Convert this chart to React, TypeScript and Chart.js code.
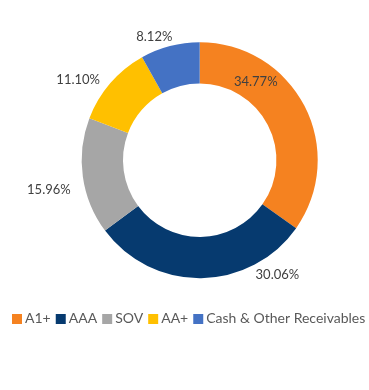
import { useEffect, useRef } from 'react';
import { Chart, registerables } from 'chart.js';

Chart.register(...registerables);

const categories = ['A1+', 'AAA', 'SOV', 'AA+', 'Cash & Other Receivables'];
const shares = [34.77, 30.06, 15.96, 11.1, 8.12];
const valueLabels = ['34.77%', '30.06%', '15.96%', '11.10%', '8.12%'];
const colors = ['#F58220', '#063A6F', '#A6A6A6', '#FFC000', '#4472C4'];

// where each value label sits: fraction along its slice (t) and distance as a share of the outer radius (r)
const labelPlacement = [
  { t: 0.284, r: 0.817 },
  { t: 0.191, r: 1.172 },
  { t: 0.442, r: 1.303 },
  { t: 0.319, r: 1.236 },
  { t: 0.308, r: 1.113 },
];

const sliceLabels = {
  id: 'sliceLabels',
  afterDatasetsDraw(chart: any, _args: any, opts: any) {
    const meta = chart.getDatasetMeta(0);
    const ctx = chart.ctx;
    ctx.save();
    ctx.font = opts.font;
    ctx.fillStyle = opts.color;
    ctx.textAlign = 'center';
    ctx.textBaseline = 'middle';
    meta.data.forEach((arc: any, i: number) => {
      const { x, y, startAngle, endAngle, outerRadius } = arc.getProps(
        ['x', 'y', 'startAngle', 'endAngle', 'outerRadius'],
        true
      );
      const p = opts.placement[i];
      const a = startAngle + (endAngle - startAngle) * p.t;
      const r = outerRadius * p.r;
      ctx.fillText(opts.labels[i], x + Math.cos(a) * r, y + Math.sin(a) * r);
    });
    ctx.restore();
  },
};

// moves the plot area's left edge so the ring sits right of the legend's centre
const plotShift = {
  id: 'plotShift',
  afterLayout(chart: any, _args: any, opts: any) {
    const area = chart.chartArea;
    area.right = Math.min(area.right, chart.width);
    area.left += opts.left || 0;
    area.width = area.right - area.left;
  },
};

function squareMarker(color: string) {
  const c = document.createElement('canvas');
  c.width = 20;
  c.height = 10;
  const g = c.getContext('2d')!;
  g.fillStyle = color;
  g.fillRect(7, 0, 10, 10);
  return c;
}

export default function App() {
  const ref = useRef<HTMLCanvasElement | null>(null);

  useEffect(() => {
    document.body.style.margin = '0';
    const canvas = ref.current!;
    const markers = colors.map(squareMarker);
    const chart = new Chart(canvas, {
      type: 'doughnut',
      data: {
        labels: categories,
        datasets: [
          {
            data: shares,
            backgroundColor: colors,
            borderWidth: 0,
            radius: 118,
            cutout: '65%',
          } as any,
        ],
      },
      plugins: [plotShift as any, sliceLabels as any],
      options: {
        responsive: false,
        animation: false,
        layout: { padding: { left: 7, right: -20, top: 13.9, bottom: 54.5 } },
        plugins: {
          tooltip: { enabled: false },
          plotShift: { left: 23.4 },
          legend: {
            position: 'bottom',
            align: 'start',
            labels: {
              usePointStyle: true,
              pointStyleWidth: 6,
              boxHeight: 10,
              padding: 5,
              color: '#595959',
              font: { family: 'Lato', size: 14 },
              generateLabels: () =>
                categories.map((text, i) => ({
                  text,
                  fillStyle: colors[i],
                  strokeStyle: colors[i],
                  lineWidth: 0,
                  pointStyle: markers[i],
                  hidden: false,
                  index: i,
                  fontColor: '#595959',
                })),
            },
          },
          sliceLabels: {
            labels: valueLabels,
            placement: labelPlacement,
            font: '13px Lato',
            color: '#404040',
          },
        } as any,
      },
    });
    return () => chart.destroy();
  }, []);

  return <canvas ref={ref} width={369} height={390} style={{ display: 'block' }} />;
}
